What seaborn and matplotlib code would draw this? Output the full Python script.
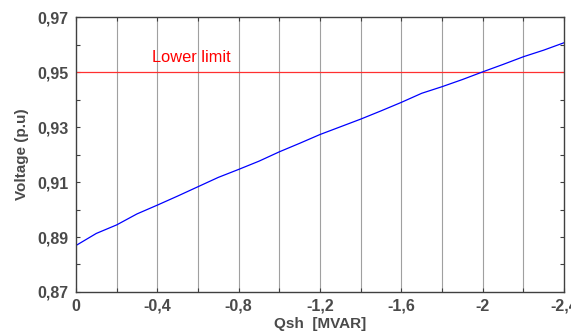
import numpy as np
import pandas as pd
import matplotlib
matplotlib.use("Agg")
import matplotlib.pyplot as plt
import seaborn as sns

# Data
qsh = [0.0, -0.1, -0.2, -0.3, -0.4, -0.5, -0.6, -0.7, -0.8, -0.9, -1.0, -1.1, -1.2,
       -1.3, -1.4, -1.5, -1.6, -1.7, -1.8, -1.9, -2.0, -2.1, -2.2, -2.3, -2.4]
voltage = [0.8869, 0.8913, 0.8944, 0.8984, 0.9016, 0.9049, 0.9083, 0.9117, 0.9146,
           0.9176, 0.9210, 0.9241, 0.9273, 0.9301, 0.9329, 0.9359, 0.9390, 0.9423,
           0.9447, 0.9473, 0.9501, 0.9528, 0.9556, 0.9580, 0.9607]
lower_limit = 0.95
limit_label = "Lower limit"
x_ticks = [0.0, -0.2, -0.4, -0.6, -0.8, -1.0, -1.2, -1.4, -1.6, -1.8, -2.0, -2.2, -2.4]
x_ticklabels = ["0", "", "-0,4", "", "-0,8", "", "-1,2", "", "-1,6", "", "-2", "", "-2,4"]
y_ticks = [0.87, 0.88, 0.89, 0.90, 0.91, 0.92, 0.93, 0.94, 0.95, 0.96, 0.97]
y_ticklabels = ["0,87", "", "0,89", "", "0,91", "", "0,93", "", "0,95", "", "0,97"]

df = pd.DataFrame({"Qsh": qsh, "Voltage": voltage})

sns.set_style("ticks")
plt.rcParams["font.family"] = ["Liberation Sans", "DejaVu Sans"]

txt = "#4a4a4a"
fig = plt.figure(figsize=(5.71, 3.36), dpi=100)
ax = fig.add_axes([0.133, 0.131, 0.855, 0.818])

for xv in x_ticks[1:-1]:
    ax.axvline(xv, color="#a0a0a0", lw=0.8, zorder=0)

ax.axhline(lower_limit, color="#ff3030", lw=0.9, zorder=1)
sns.lineplot(data=df, x="Qsh", y="Voltage", color="#0000ff", lw=0.9, ax=ax, zorder=2)

ax.text(-0.372, 0.9553, limit_label, color="#ff0000", fontsize=11.8,
        ha="left", va="center")

ax.set_xlim(0, -2.4)
ax.set_ylim(0.87, 0.97)
ax.set_xticks(x_ticks)
ax.set_xticklabels(x_ticklabels)
ax.set_yticks(y_ticks)
ax.set_yticklabels(y_ticklabels)

ax.tick_params(axis="both", direction="in", length=3, width=0.8, colors="#404040",
               top=True, right=True, labelsize=11.5, pad=5)
for lab in ax.get_xticklabels() + ax.get_yticklabels():
    lab.set_fontweight("bold")
    lab.set_color(txt)

for sp in ax.spines.values():
    sp.set_color("#404040")
    sp.set_linewidth(1.0)

ax.set_xlabel("Qsh  [MVAR]", fontsize=11, fontweight="bold", color=txt, labelpad=2)
ax.set_ylabel("Voltage (p.u)", fontsize=11, fontweight="bold", color=txt, labelpad=6)

fig.savefig("out.png", dpi=100)
